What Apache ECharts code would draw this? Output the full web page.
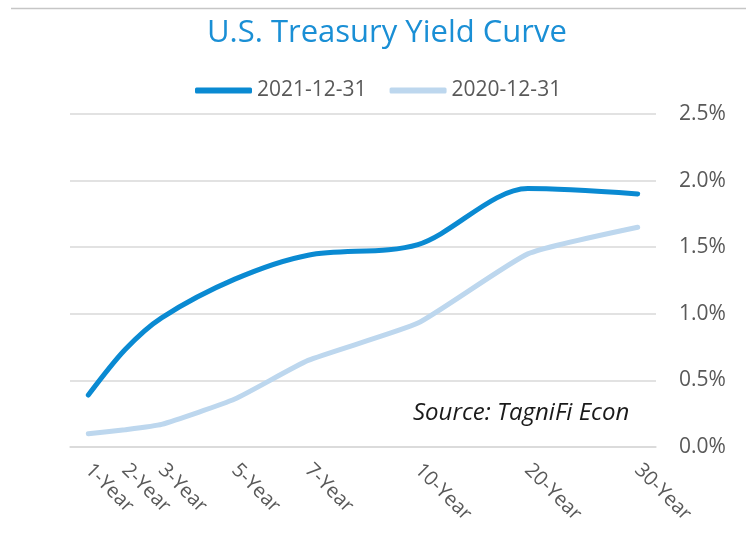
<!DOCTYPE html>
<html>
<head>
<meta charset="utf-8">
<script src="https://cdn.jsdelivr.net/npm/echarts@6/dist/echarts.min.js"></script>
<style>html,body{margin:0;padding:0;background:#fff}#c{width:746px;height:533px}</style>
</head>
<body>
<div id="c"></div>
<script>
// Maturity slots (Excel category axis with blank intermediate slots)
const categories = ['1-Year','2-Year','3-Year','','5-Year','','7-Year','','','10-Year','','','20-Year','','','30-Year'];
const yields2021 = [0.39, 0.73, 0.97, null, 1.26, null, 1.44, null, null, 1.52, null, null, 1.94, null, null, 1.90];
const yields2020 = [0.10, 0.13, 0.17, null, 0.36, null, 0.65, null, null, 0.93, null, null, 1.45, null, null, 1.65];
const yTicks = [0, 0.5, 1.0, 1.5, 2.0, 2.5];

const FONT = 'Open Sans';
const chart = echarts.init(document.getElementById('c'));
chart.setOption({
  animation: false,
  backgroundColor: '#ffffff',
  title: {
    text: 'U.S. Treasury Yield Curve',
    left: 202, top: 13,
    textStyle: {fontFamily: FONT, fontSize: 31, fontWeight: 'normal', color: '#1a8fd5'}
  },
  legend: {
    top: 75, left: 190,
    itemWidth: 57, itemHeight: 6, itemGap: 23,
    icon: 'roundRect',
    textStyle: {fontFamily: FONT, fontSize: 21, color: '#595959'},
    data: ['2021-12-31', '2020-12-31']
  },
  grid: {left: 70, right: 90, top: 114, bottom: 86},
  xAxis: {
    type: 'category', data: categories, boundaryGap: true,
    axisLine: {lineStyle: {color: '#d9d9d9', width: 1.5}},
    axisTick: {show: false},
    axisLabel: {interval: 0, rotate: -45, margin: 20, fontFamily: FONT, fontSize: 20, color: '#595959'}
  },
  yAxis: {
    type: 'value', position: 'right', min: 0, max: 2.5, interval: 0.5,
    axisLine: {show: false}, axisTick: {show: false},
    splitLine: {lineStyle: {color: '#d9d9d9', width: 1.5}},
    axisLabel: {margin: 23, fontFamily: FONT, fontSize: 21, color: '#595959',
      formatter: v => v.toFixed(1) + '%'}
  },
  series: [
    {name: '2021-12-31', type: 'line', data: yields2021, connectNulls: true, smooth: 0.3,
     showSymbol: false, symbol: 'none', color: '#0a8ad2',
     lineStyle: {width: 5, color: '#0a8ad2', cap: 'round'}},
    {name: '2020-12-31', type: 'line', data: yields2020, connectNulls: true, smooth: 0.15,
     showSymbol: false, symbol: 'none', color: '#bdd7ee',
     lineStyle: {width: 5, color: '#bdd7ee', cap: 'round'}, z: 1}
  ],
  graphic: [
    {type: 'line', shape: {x1: 11, y1: 8.5, x2: 746, y2: 8.5}, style: {stroke: '#c6c6c6', lineWidth: 1.5}},
    {type: 'text', left: 413, top: 401, style: {text: 'Source: TagniFi Econ', fontFamily: FONT, fontStyle: 'italic', fontSize: 24, fill: '#1a1a1a'}}
  ]
});
</script>
</body>
</html>
